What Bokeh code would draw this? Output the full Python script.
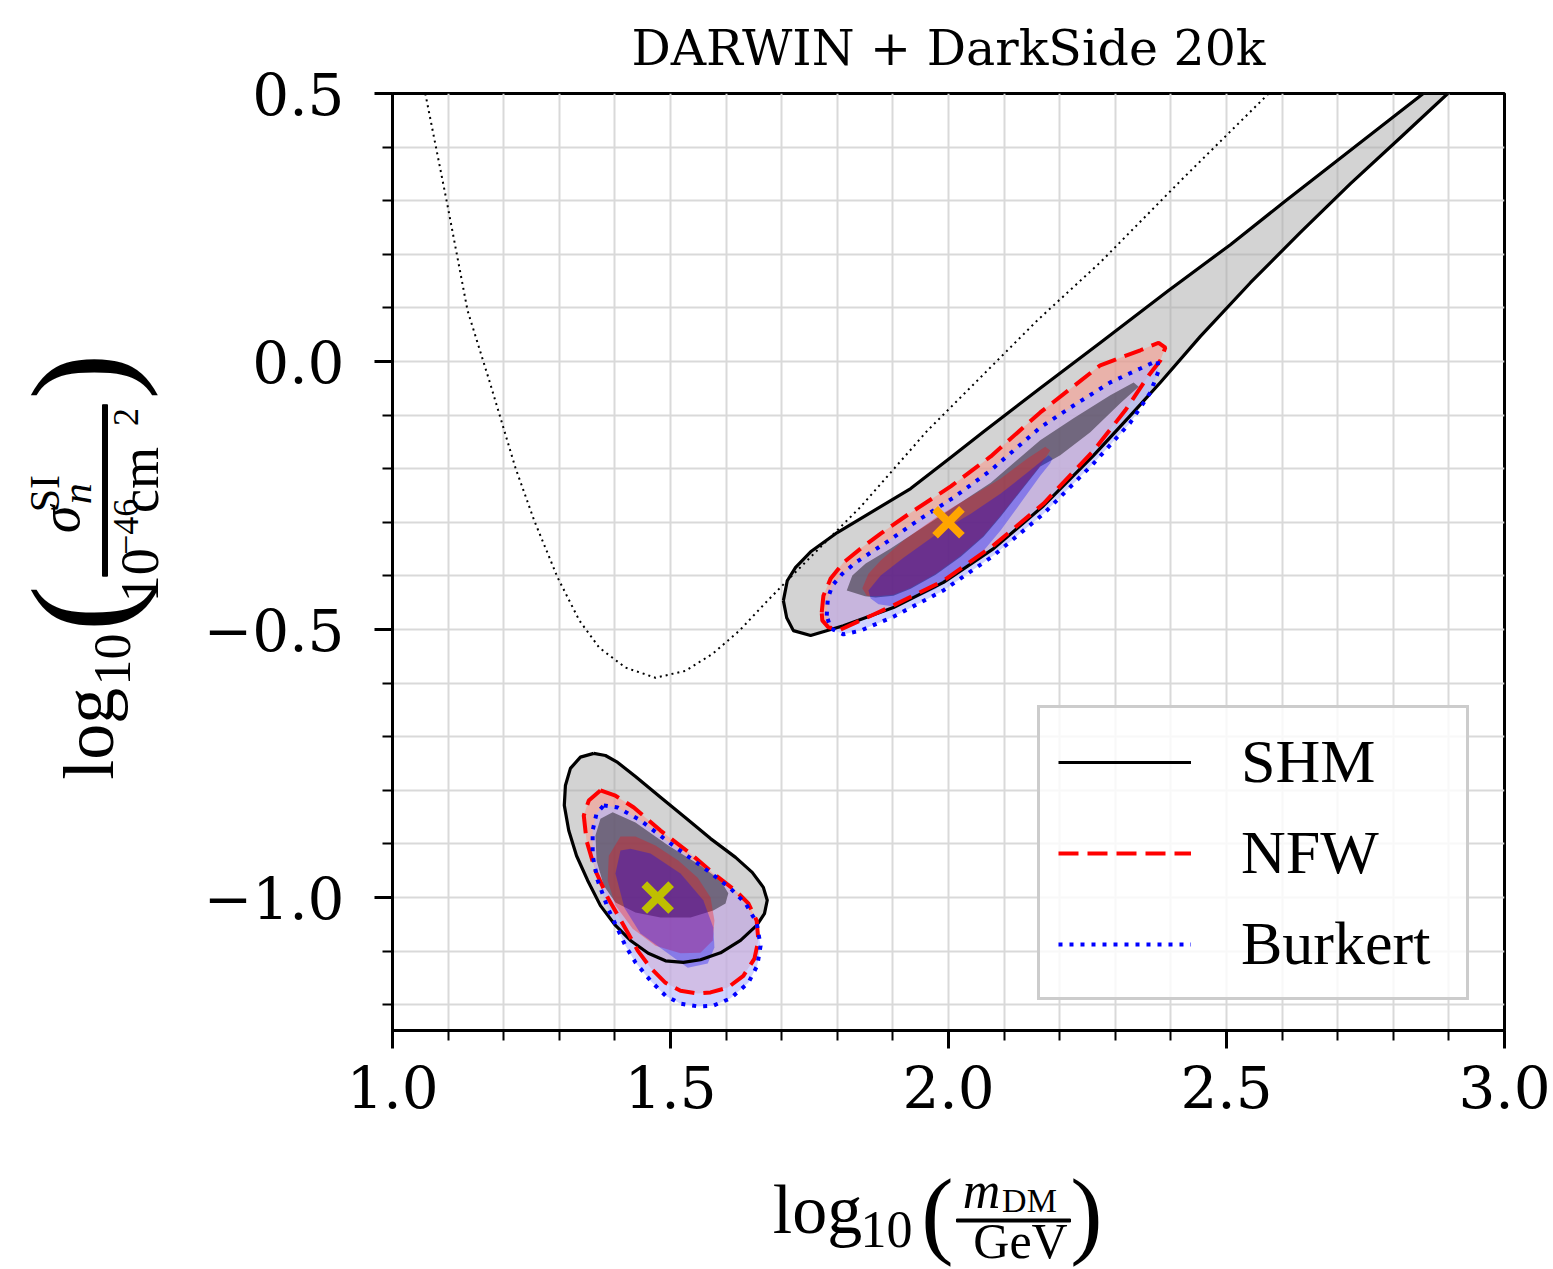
from math import pi
from bokeh.plotting import figure
from bokeh.layouts import row, column
from bokeh.models import Range1d, FixedTicker, Legend, LegendItem
from bokeh.core.properties import value
from bokeh.embed import file_html
from bokeh.resources import INLINE

# ---------------- data ----------------
title_text = "DARWIN + DarkSide 20k"
x_major = [1.0, 1.5, 2.0, 2.5, 3.0]
x_labels = ["1.0", "1.5", "2.0", "2.5", "3.0"]
x_grid = [1.0, 1.1, 1.2, 1.3, 1.4, 1.5, 1.6, 1.7, 1.8, 1.9, 2.0,
          2.1, 2.2, 2.3, 2.4, 2.5, 2.6, 2.7, 2.8, 2.9, 3.0]
y_major = [-1.0, -0.5, 0.0, 0.5]
y_labels = ["\u22121.0", "\u22120.5", "0.0", "0.5"]
y_grid = [-1.2, -1.1, -1.0, -0.9, -0.8, -0.7, -0.6, -0.5, -0.4, -0.3, -0.2,
          -0.1, 0.0, 0.1, 0.2, 0.3, 0.4, 0.5]

# dotted curve
theory_x = [1.059, 1.099, 1.135, 1.173, 1.221, 1.255, 1.297, 1.336, 1.372, 1.419, 1.473,
            1.527, 1.576, 1.624, 1.671, 1.719, 1.842, 1.962, 2.160, 2.273, 2.423, 2.576]
theory_y = [0.500, 0.291, 0.095, -0.032, -0.198, -0.297, -0.403, -0.483, -0.534, -0.571, -0.590,
            -0.577, -0.545, -0.502, -0.450, -0.399, -0.271, -0.129, 0.077, 0.185, 0.343, 0.500]

# SHM 2-sigma (outer) contours
shm2_hi_x = [1.703, 1.710, 1.725, 1.752, 1.800, 1.863, 1.932, 2.004, 2.063, 2.166, 2.273, 2.394,
             2.507, 2.603, 2.723, 2.854, 2.898, 2.813, 2.723, 2.633, 2.543, 2.453, 2.381, 2.327,
             2.261, 2.171, 2.081, 1.991, 1.901, 1.811, 1.752, 1.721, 1.709]
shm2_hi_y = [-0.446, -0.409, -0.384, -0.355, -0.319, -0.280, -0.237, -0.179, -0.131, -0.049, 0.035,
             0.131, 0.218, 0.297, 0.394, 0.500, 0.500, 0.418, 0.332, 0.241, 0.147, 0.047, -0.039,
             -0.101, -0.175, -0.269, -0.349, -0.412, -0.459, -0.493, -0.511, -0.502, -0.478]
shm2_lo_x = [1.362, 1.383, 1.405, 1.437, 1.482, 1.527, 1.572, 1.617, 1.647, 1.667, 1.674, 1.669,
             1.655, 1.626, 1.590, 1.554, 1.523, 1.491, 1.460, 1.428, 1.401, 1.374, 1.351, 1.331,
             1.317, 1.309, 1.311, 1.320, 1.338]
shm2_lo_y = [-0.731, -0.735, -0.748, -0.774, -0.813, -0.851, -0.890, -0.925, -0.953, -0.981,
             -1.005, -1.030, -1.052, -1.080, -1.103, -1.116, -1.121, -1.118, -1.104, -1.080,
             -1.052, -1.015, -0.968, -0.922, -0.875, -0.828, -0.791, -0.759, -0.738]
# SHM 1-sigma
shm1_hi_x = [1.817, 1.827, 1.851, 1.896, 1.950, 2.009, 2.076, 2.165, 2.225, 2.291, 2.333, 2.342,
             2.309, 2.255, 2.201, 2.165, 2.129, 2.094, 2.063, 2.022, 1.977, 1.932, 1.901, 1.869,
             1.850]
shm1_hi_y = [-0.427, -0.399, -0.377, -0.349, -0.312, -0.272, -0.226, -0.147, -0.106, -0.063,
             -0.039, -0.047, -0.078, -0.132, -0.175, -0.196, -0.243, -0.289, -0.327, -0.364,
             -0.398, -0.424, -0.437, -0.440, -0.438]
shm1_lo_x = [1.374, 1.396, 1.437, 1.496, 1.554, 1.590, 1.604, 1.599, 1.577, 1.536, 1.482, 1.437,
             1.401, 1.380, 1.367, 1.365]
shm1_lo_y = [-0.853, -0.841, -0.860, -0.903, -0.940, -0.968, -0.992, -1.011, -1.024, -1.037,
             -1.037, -1.028, -1.009, -0.978, -0.931, -0.884]

# NFW contours
nfw2_hi_x = [1.772, 1.775, 1.788, 1.811, 1.842, 1.878, 1.932, 2.004, 2.076, 2.165, 2.273, 2.345,
             2.378, 2.390, 2.381, 2.360, 2.318, 2.261, 2.171, 2.081, 1.991, 1.901, 1.842, 1.806,
             1.784, 1.773]
nfw2_hi_y = [-0.468, -0.437, -0.405, -0.375, -0.349, -0.321, -0.282, -0.233, -0.177, -0.095,
             -0.007, 0.021, 0.035, 0.026, 0.002, -0.026, -0.091, -0.166, -0.265, -0.343, -0.409,
             -0.455, -0.483, -0.500, -0.496, -0.483]
nfw2_lo_x = [1.374, 1.401, 1.434, 1.482, 1.536, 1.577, 1.617, 1.640, 1.655, 1.658, 1.651, 1.631,
             1.603, 1.572, 1.549, 1.518, 1.491, 1.464, 1.441, 1.424, 1.387, 1.365, 1.349, 1.344,
             1.353]
nfw2_lo_y = [-0.800, -0.810, -0.832, -0.875, -0.918, -0.955, -0.987, -1.011, -1.043, -1.080,
             -1.114, -1.146, -1.168, -1.177, -1.179, -1.174, -1.159, -1.131, -1.099, -1.067,
             -1.000, -0.950, -0.894, -0.847, -0.819]
nfw1_hi_x = [1.845, 1.856, 1.878, 1.919, 1.980, 2.040, 2.094, 2.142, 2.174, 2.183, 2.165, 2.129,
             2.094, 2.063, 2.022, 1.977, 1.932, 1.901, 1.869, 1.853]
nfw1_hi_y = [-0.423, -0.396, -0.371, -0.334, -0.289, -0.252, -0.218, -0.181, -0.159, -0.166,
             -0.194, -0.241, -0.287, -0.325, -0.362, -0.396, -0.422, -0.435, -0.438, -0.437]
nfw1_lo_x = [1.410, 1.389, 1.387, 1.401, 1.432, 1.473, 1.518, 1.554, 1.576, 1.579, 1.572, 1.549,
             1.514, 1.473, 1.437]
nfw1_lo_y = [-0.886, -0.922, -0.968, -1.015, -1.058, -1.090, -1.104, -1.103, -1.080, -1.043,
             -1.000, -0.963, -0.931, -0.903, -0.886]

# Burkert contours
bur2_hi_x = [1.781, 1.783, 1.791, 1.809, 1.833, 1.890, 1.950, 2.009, 2.076, 2.165, 2.225, 2.291,
             2.345, 2.376, 2.378, 2.363, 2.327, 2.261, 2.171, 2.081, 1.991, 1.901, 1.842, 1.811,
             1.788]
bur2_hi_y = [-0.474, -0.442, -0.418, -0.396, -0.375, -0.336, -0.293, -0.254, -0.203, -0.123,
             -0.082, -0.039, -0.013, 0.002, -0.017, -0.058, -0.114, -0.190, -0.284, -0.362,
             -0.427, -0.476, -0.502, -0.509, -0.498]
bur2_lo_x = [1.380, 1.405, 1.446, 1.505, 1.567, 1.608, 1.635, 1.655, 1.662, 1.656, 1.640, 1.608,
             1.576, 1.549, 1.518, 1.491, 1.464, 1.437, 1.419, 1.387, 1.369, 1.360, 1.360, 1.367]
bur2_lo_y = [-0.828, -0.832, -0.856, -0.903, -0.950, -0.983, -1.011, -1.047, -1.090, -1.127,
             -1.159, -1.188, -1.202, -1.203, -1.198, -1.183, -1.155, -1.121, -1.090, -1.019,
             -0.968, -0.922, -0.875, -0.843]
bur1_hi_x = [1.856, 1.878, 1.919, 1.980, 2.040, 2.094, 2.147, 2.180, 2.187, 2.183, 2.165, 2.129,
             2.094, 2.063, 2.022, 1.977, 1.932, 1.901, 1.874, 1.860]
bur1_hi_y = [-0.427, -0.399, -0.366, -0.321, -0.284, -0.246, -0.203, -0.175, -0.181, -0.190,
             -0.213, -0.265, -0.315, -0.353, -0.390, -0.424, -0.446, -0.457, -0.453, -0.442]
bur1_lo_x = [1.428, 1.410, 1.401, 1.417, 1.446, 1.495, 1.531, 1.567, 1.579, 1.577, 1.559, 1.518,
             1.464]
bur1_lo_y = [-0.909, -0.912, -0.955, -1.019, -1.067, -1.104, -1.131, -1.123, -1.093, -1.056,
             -1.005, -0.955, -0.918]

# benchmark points
bench_x = [2.0, 1.477]
bench_y = [-0.3, -1.0]
bench_color = ["#ffa500", "#bfbf00"]

legend_labels = ["SHM", "NFW", "Burkert"]

# ---------------- layout sizes ----------------
W, H = 1553, 1269
YW = 180           # width of the y-label strip
XH = 110           # height of the x-label strip
PW, PH = W - YW, H - XH

# ---------------- main figure ----------------
p = figure(width=PW, height=PH, x_range=Range1d(1.0, 3.0), y_range=Range1d(-1.248, 0.5),
           output_backend="svg", toolbar_location=None,
           min_border_left=392 - YW, min_border_right=49, min_border_top=93,
           min_border_bottom=239 - XH)
p.background_fill_color = "white"
p.border_fill_color = "white"
p.outline_line_color = "black"
p.outline_line_width = 3
p.outline_line_alpha = 1.0

p.title.text = title_text
p.title.align = "center"
p.title.text_font = "DejaVu Serif"
p.title.text_font_size = "49px"
p.title.text_font_style = "normal"
p.title.text_color = "black"
p.title.standoff = 34

for ax, maj, labs, minors in [(p.xaxis[0], x_major, x_labels, x_grid),
                              (p.yaxis[0], y_major, y_labels, y_grid)]:
    ax.ticker = FixedTicker(ticks=maj, minor_ticks=minors)
    ax.major_label_overrides = {v: s for v, s in zip(maj, labs)}
    ax.axis_line_width = 3
    ax.axis_line_color = "black"
    ax.major_tick_in = 0
    ax.major_tick_out = 18
    ax.minor_tick_in = 0
    ax.minor_tick_out = 10
    ax.major_tick_line_width = 3
    ax.minor_tick_line_width = 2
    ax.major_tick_line_color = "black"
    ax.minor_tick_line_color = "black"
    ax.major_label_text_font = "DejaVu Serif"
    ax.major_label_text_font_size = "58px"
    ax.major_label_text_color = "black"
p.xaxis[0].major_label_standoff = 16
p.yaxis[0].major_label_standoff = 30

p.xgrid.ticker = FixedTicker(ticks=x_grid)
p.ygrid.ticker = FixedTicker(ticks=y_grid)
for g in (p.xgrid[0], p.ygrid[0]):
    g.grid_line_color = "#d9d9d9"
    g.grid_line_width = 2

# filled regions
def fill(xs_list, ys_list, color, alpha):
    p.patches(xs=xs_list, ys=ys_list, fill_color=color, fill_alpha=alpha, line_alpha=0)

fill([shm2_hi_x, shm2_lo_x], [shm2_hi_y, shm2_lo_y], "#a8a8a8", 0.5)
fill([nfw2_hi_x, nfw2_lo_x], [nfw2_hi_y, nfw2_lo_y], "#ff9181", 0.5)
fill([bur2_hi_x, bur2_lo_x], [bur2_hi_y, bur2_lo_y], "#b1b7ff", 0.6)
fill([shm1_hi_x, shm1_lo_x], [shm1_hi_y, shm1_lo_y], "black", 0.43)
fill([nfw1_hi_x, nfw1_lo_x], [nfw1_hi_y, nfw1_lo_y], "red", 0.3)
fill([bur1_hi_x, bur1_lo_x], [bur1_hi_y, bur1_lo_y], "blue", 0.32)

def closed(a):
    return list(a) + [a[0]]

p.line(theory_x, theory_y, line_color="black", line_width=2, line_dash="2 4")

r_shm = p.multi_line(xs=[closed(shm2_hi_x), closed(shm2_lo_x)],
                     ys=[closed(shm2_hi_y), closed(shm2_lo_y)],
                     line_color="black", line_width=3.2, line_join="round")
r_nfw = p.multi_line(xs=[closed(nfw2_hi_x), closed(nfw2_lo_x)],
                     ys=[closed(nfw2_hi_y), closed(nfw2_lo_y)],
                     line_color="red", line_width=4, line_dash="20 9")
r_bur = p.multi_line(xs=[closed(bur2_hi_x), closed(bur2_lo_x)],
                     ys=[closed(bur2_hi_y), closed(bur2_lo_y)],
                     line_color="blue", line_width=4, line_dash="4 7")

p.scatter(bench_x, bench_y, marker="x", size=38, line_color=bench_color, line_width=8)

legend = Legend(items=[LegendItem(label=value(legend_labels[0]), renderers=[r_shm]),
                       LegendItem(label=value(legend_labels[1]), renderers=[r_nfw]),
                       LegendItem(label=value(legend_labels[2]), renderers=[r_bur])],
                location=(1037 - 392, 1030 - 1000), orientation="vertical",
                label_text_font="Liberation Serif", label_text_font_size="62px",
                label_text_color="black",
                glyph_width=133, glyph_height=60, label_height=60, label_width=207,
                label_standoff=50, spacing=20, padding=18, margin=0,
                border_line_color="#cccccc", border_line_width=3, border_line_alpha=1.0,
                background_fill_color="white", background_fill_alpha=0.8)
p.add_layout(legend)

# ---------------- text strips (texts drawn as glyphs) ----------------
def strip(width, height):
    f = figure(width=width, height=height, x_range=Range1d(0, width), y_range=Range1d(0, height),
               output_backend="svg", toolbar_location=None, x_axis_location=None,
               y_axis_location=None, min_border=0)
    f.outline_line_color = None
    f.background_fill_color = "white"
    f.border_fill_color = "white"
    f.xgrid.visible = False
    f.ygrid.visible = False
    return f

ylab = strip(YW, PH)    # page x 0..180, y 0..1159
xlab = strip(W, XH)     # page y 1159..1269

def put(f, bottom, text, ax_, ay_, size, angle=0.0, style="normal", font="Liberation Serif"):
    # bottom: page y of the strip's lower edge; (ax_, ay_) page pixels
    f.text(x=[ax_], y=[bottom - ay_], text=[text], angle=angle,
           text_font=value(font), text_font_size=value(f"{size}px"),
           text_font_style=value(style), text_color="black",
           text_align=value("center"), text_baseline=value("middle"))

# x label: log10( m_DM / GeV )
XB = H
put(xlab, XB, "log", 817, 1209, 70)
put(xlab, XB, "10", 886, 1229, 52)
put(xlab, XB, "(", 937, 1213, 97)
put(xlab, XB, "m", 981, 1190, 52, style="italic")
put(xlab, XB, "DM", 1029, 1200, 34)
xlab.quad(left=[956], right=[1070], top=[XB - 1218.5], bottom=[XB - 1221.5], color="black")
put(xlab, XB, "GeV", 1020, 1240, 50)
put(xlab, XB, ")", 1086, 1213, 97)

# y label (rotated, reads upward): log10( sigma_n^SI / 10^-46 cm^2 )
YB = PH
R = pi / 2
put(ylab, YB, "log", 88.5, 792, 72, angle=R)
put(ylab, YB, "10", 112, 700, 52, angle=R)
put(ylab, YB, "(", 79.5, 637, 140, angle=R)
put(ylab, YB, "\u03c3", 59, 527, 56, angle=R, style="italic")
put(ylab, YB, "n", 76, 495, 42, angle=R, style="italic")
put(ylab, YB, "SI", 44, 495, 42, angle=R)
ylab.quad(left=[102], right=[107], top=[YB - 385], bottom=[YB - 597], color="black")
put(ylab, YB, "10", 139.6, 596, 54, angle=R)
put(ylab, YB, "\u221246", 125.8, 536, 36, angle=R)
put(ylab, YB, "cm", 139.6, 478, 54, angle=R)
put(ylab, YB, "2", 125.8, 400, 36, angle=R)
put(ylab, YB, ")", 79.5, 350, 140, angle=R)

layout = column(row(ylab, p, spacing=0), xlab, spacing=0)
open("out.html", "w").write(file_html(layout, INLINE))
